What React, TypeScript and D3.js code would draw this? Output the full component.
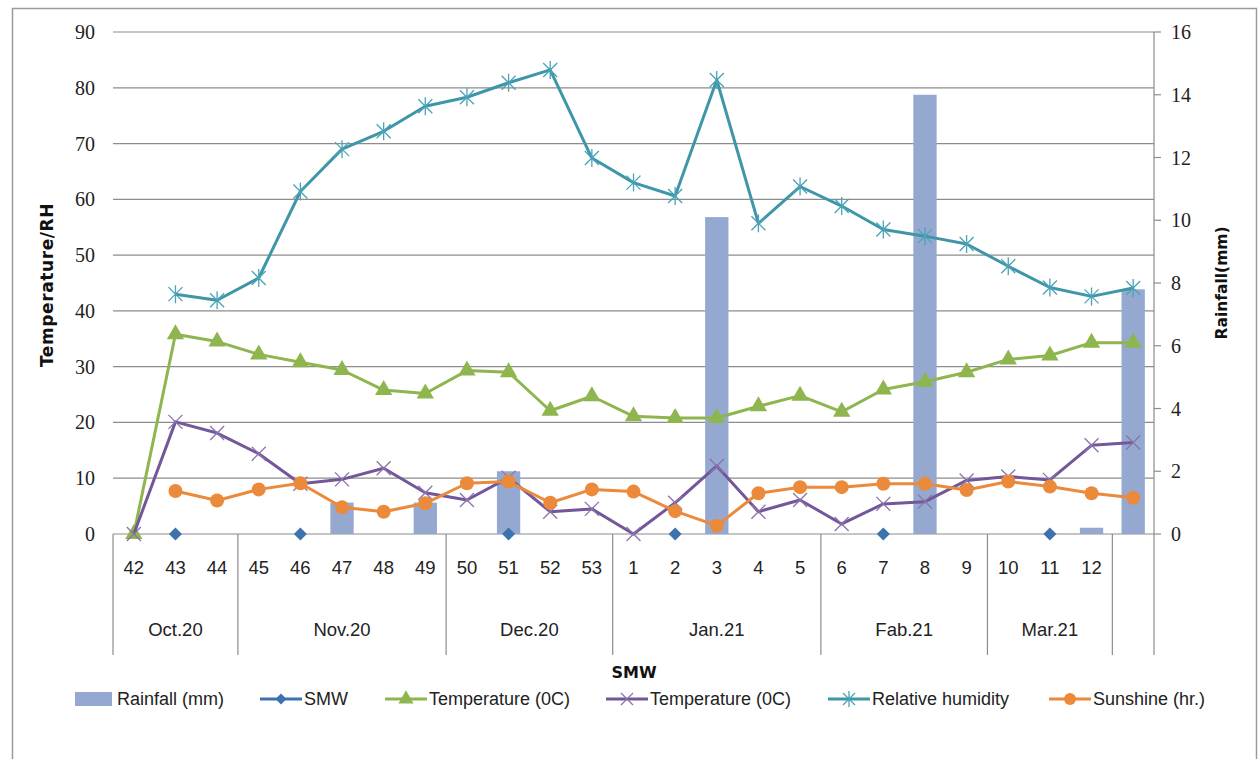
import { useEffect, useRef } from 'react';
import * as d3 from 'd3';

// Standard meteorological weeks, with one blank category at the end
const weeks = ['42', '43', '44', '45', '46', '47', '48', '49', '50', '51', '52', '53',
  '1', '2', '3', '4', '5', '6', '7', '8', '9', '10', '11', '12', ''];
const monthLabels = ['Oct.20', 'Nov.20', 'Dec.20', 'Jan.21', 'Fab.21', 'Mar.21', ''];
const monthSpans = [3, 5, 4, 5, 4, 3, 1];

const rainfall = [0, 0, 0, 0, 0, 1.0, 0, 1.0, 0, 2.0, 0, 0,
  0, 0, 10.1, 0, 0, 0, 0, 14.0, 0, 0, 0, 0.2, 7.8];
const smw: (number | null)[] = [null, 0, null, null, 0, null, null, null, null, 0, null, null,
  null, 0, null, null, null, null, 0, null, null, null, 0, null, null];
const tempMax = [0, 35.8, 34.5, 32.2, 30.8, 29.4, 25.8, 25.2, 29.3, 29.0, 22.1, 24.7,
  21.1, 20.8, 20.8, 22.9, 24.8, 21.9, 25.9, 27.3, 29.0, 31.3, 32.0, 34.3, 34.3];
const tempMin = [0, 20.1, 18.1, 14.4, 9.0, 9.8, 11.8, 7.4, 6.1, 10.1, 4.0, 4.5,
  0, 5.6, 12.2, 4.0, 6.1, 1.8, 5.4, 5.8, 9.6, 10.3, 9.7, 15.9, 16.4];
const humidity: (number | null)[] = [null, 43.0, 41.9, 45.9, 61.4, 69.0, 72.2, 76.7, 78.3, 80.9, 83.2, 67.4,
  63.0, 60.6, 81.4, 55.7, 62.3, 58.8, 54.6, 53.4, 52.0, 48.0, 44.2, 42.6, 44.1];
const sunshine: (number | null)[] = [null, 7.7, 6.0, 8.0, 9.1, 4.8, 4.0, 5.5, 9.1, 9.4, 5.6, 8.0,
  7.6, 4.1, 1.5, 7.3, 8.4, 8.4, 9.0, 9.0, 7.9, 9.4, 8.5, 7.3, 6.5];

const leftTicks = [0, 10, 20, 30, 40, 50, 60, 70, 80, 90];
const rightTicks = [0, 2, 4, 6, 8, 10, 12, 14, 16];

const COLORS = {
  rain: '#95A9D0',
  smw: '#3D72AE',
  tmax: '#8FB54E',
  tmin: '#74569A',
  rh: '#3F96A8',
  sun: '#EC8A3C',
  grid: '#8C8C8C',
};

const numFont = '"Liberation Serif", "DejaVu Serif", serif';
const catFont = '"Liberation Sans", Arial, sans-serif';
const boldFont = '"DejaVu Sans", "Liberation Sans", sans-serif';

export default function App() {
  const svgRef = useRef<SVGSVGElement>(null);

  useEffect(() => {
    if (!svgRef.current) return;
    const width = 1258;
    const height = 759;
    const left = 113;
    const right = 1154;
    const top = 32;
    const base = 534;
    const catBottom = 655;

    const svg = d3.select(svgRef.current);
    svg.selectAll('*').remove();
    svg.attr('width', width).attr('height', height);

    svg.append('rect').attr('x', 0).attr('y', 0).attr('width', width).attr('height', height).attr('fill', '#fff');
    // outer frame
    svg.append('rect')
      .attr('x', 12.5).attr('y', 8.5).attr('width', 1244).attr('height', 800)
      .attr('fill', 'none').attr('stroke', '#9a9a9a').attr('stroke-width', 1.5);

    const x = d3.scaleBand<number>().domain(weeks.map((_, i) => i)).range([left, right]).padding(0);
    const cx = (i: number) => x(i)! + x.bandwidth() / 2;
    const yL = d3.scaleLinear().domain([0, 90]).range([base, top]);
    const yR = d3.scaleLinear().domain([0, 16]).range([base, top]);

    // gridlines
    svg.append('g').selectAll('line').data(leftTicks).enter().append('line')
      .attr('x1', left).attr('x2', right)
      .attr('y1', (d) => yL(d)).attr('y2', (d) => yL(d))
      .attr('stroke', COLORS.grid).attr('stroke-width', 1.2);

    // left tick labels
    svg.append('g').selectAll('text').data(leftTicks).enter().append('text')
      .attr('x', 95).attr('y', (d) => yL(d)).attr('dy', '0.35em')
      .attr('text-anchor', 'end').attr('font-family', numFont).attr('font-size', 20)
      .attr('fill', '#222').text((d) => d);

    // right axis
    svg.append('line').attr('x1', right).attr('x2', right).attr('y1', top).attr('y2', catBottom)
      .attr('stroke', COLORS.grid).attr('stroke-width', 1.2);
    const rg = svg.append('g');
    rg.selectAll('line').data(rightTicks).enter().append('line')
      .attr('x1', right).attr('x2', right + 7)
      .attr('y1', (d) => yR(d)).attr('y2', (d) => yR(d))
      .attr('stroke', COLORS.grid).attr('stroke-width', 1.2);
    rg.selectAll('text').data(rightTicks).enter().append('text')
      .attr('x', 1171).attr('y', (d) => yR(d)).attr('dy', '0.35em')
      .attr('font-family', numFont).attr('font-size', 20).attr('fill', '#222').text((d) => d);

    // category (week) labels
    svg.append('g').selectAll('text').data(weeks).enter().append('text')
      .attr('x', (_, i) => cx(i)).attr('y', 568).attr('dy', '0.35em')
      .attr('text-anchor', 'middle').attr('font-family', catFont).attr('font-size', 18.5)
      .attr('fill', '#222').text((d) => d);

    // month groups
    let start = 0;
    const mg = svg.append('g');
    mg.append('line').attr('x1', left).attr('x2', left).attr('y1', base).attr('y2', catBottom)
      .attr('stroke', COLORS.grid).attr('stroke-width', 1.2);
    monthSpans.forEach((span, k) => {
      const x0 = x(start)!;
      const x1 = start + span < weeks.length ? x(start + span)! : right;
      if (start + span < weeks.length) {
        mg.append('line').attr('x1', x1).attr('x2', x1).attr('y1', base).attr('y2', catBottom)
          .attr('stroke', COLORS.grid).attr('stroke-width', 1.2);
      }
      mg.append('text').attr('x', (x0 + x1) / 2).attr('y', 630).attr('dy', '0.35em')
        .attr('text-anchor', 'middle').attr('font-family', catFont).attr('font-size', 18.5)
        .attr('fill', '#222').text(monthLabels[k]);
      start += span;
    });

    // rainfall bars (right axis)
    const bw = x.bandwidth() * 0.56;
    svg.append('g').selectAll('rect').data(rainfall).enter().append('rect')
      .attr('x', (_, i) => cx(i) - bw / 2).attr('width', bw)
      .attr('y', (d) => yR(d)).attr('height', (d) => base - yR(d))
      .attr('fill', COLORS.rain);

    const drawLine = (vals: (number | null)[], color: string) => {
      const line = d3.line<number | null>()
        .defined((d) => d !== null)
        .x((_, i) => cx(i)).y((d) => yL(d as number));
      svg.append('path').datum(vals).attr('d', line).attr('fill', 'none')
        .attr('stroke', color).attr('stroke-width', 3).attr('stroke-linejoin', 'round');
    };

    // SMW diamonds
    const diamond = d3.symbol(d3.symbolSquare, 85)();
    smw.forEach((v, i) => {
      if (v === null) return;
      svg.append('path').attr('d', diamond)
        .attr('transform', `translate(${cx(i)},${yL(v)}) rotate(45)`).attr('fill', COLORS.smw);
    });

    // Temperature max
    drawLine(tempMax, COLORS.tmax);
    tempMax.forEach((v, i) => {
      svg.append('path').attr('d', d3.symbol(d3.symbolTriangle, 130)())
        .attr('transform', `translate(${cx(i)},${yL(v)})`).attr('fill', COLORS.tmax);
    });

    // Temperature min
    drawLine(tempMin, COLORS.tmin);
    tempMin.forEach((v, i) => {
      const g = svg.append('g').attr('transform', `translate(${cx(i)},${yL(v)})`);
      g.append('path').attr('d', 'M-7,-7L7,7M-7,7L7,-7').attr('stroke', '#8a74aa').attr('stroke-width', 1.3);
    });

    // Relative humidity
    drawLine(humidity, COLORS.rh);
    humidity.forEach((v, i) => {
      if (v === null) return;
      const g = svg.append('g').attr('transform', `translate(${cx(i)},${yL(v)})`);
      g.append('path').attr('d', 'M-7,-7L7,7M-7,7L7,-7M0,-9L0,9').attr('stroke', '#4aa3b6').attr('stroke-width', 1.3);
    });

    // Sunshine
    drawLine(sunshine, COLORS.sun);
    sunshine.forEach((v, i) => {
      if (v === null) return;
      svg.append('circle').attr('cx', cx(i)).attr('cy', yL(v)).attr('r', 7).attr('fill', COLORS.sun);
    });

    // axis titles
    svg.append('text').attr('transform', `translate(53,${285}) rotate(-90)`)
      .attr('text-anchor', 'middle').attr('font-family', boldFont).attr('font-weight', 'bold')
      .attr('font-size', 17).attr('letter-spacing', 0.6).attr('fill', '#111').text('Temperature/RH');
    svg.append('text').attr('transform', `translate(1227,${283}) rotate(-90)`)
      .attr('text-anchor', 'middle').attr('font-family', boldFont).attr('font-weight', 'bold')
      .attr('font-size', 15.5).attr('fill', '#111').text('Rainfall(mm)');
    svg.append('text').attr('x', 634).attr('y', 672).attr('dy', '0.35em')
      .attr('text-anchor', 'middle').attr('font-family', boldFont).attr('font-weight', 'bold')
      .attr('font-size', 16).attr('fill', '#111').text('SMW');

    // legend
    const ly = 699;
    const lg = svg.append('g').attr('font-family', catFont).attr('font-size', 18).attr('fill', '#222');
    lg.append('rect').attr('x', 75).attr('y', ly - 7).attr('width', 37).attr('height', 14).attr('fill', COLORS.rain);
    lg.append('text').attr('x', 117).attr('y', ly).attr('dy', '0.35em').text('Rainfall (mm)');

    const legendLine = (x0: number, color: string, label: string, marker: (g: d3.Selection<SVGGElement, unknown, null, undefined>) => void) => {
      lg.append('line').attr('x1', x0).attr('x2', x0 + 42).attr('y1', ly).attr('y2', ly)
        .attr('stroke', color).attr('stroke-width', 3);
      marker(lg.append('g').attr('transform', `translate(${x0 + 21},${ly})`));
      lg.append('text').attr('x', x0 + 44).attr('y', ly).attr('dy', '0.35em').text(label);
    };
    legendLine(260, COLORS.smw, 'SMW', (g) => {
      g.append('path').attr('d', d3.symbol(d3.symbolSquare, 60)()).attr('transform', 'rotate(45)').attr('fill', COLORS.smw);
    });
    legendLine(385, COLORS.tmax, 'Temperature (0C)', (g) => {
      g.append('path').attr('d', d3.symbol(d3.symbolTriangle, 100)()).attr('fill', COLORS.tmax);
    });
    legendLine(606, COLORS.tmin, 'Temperature (0C)', (g) => {
      g.append('path').attr('d', 'M-6,-6L6,6M-6,6L6,-6').attr('stroke', '#8a74aa').attr('stroke-width', 1.3);
    });
    legendLine(828, COLORS.rh, 'Relative humidity', (g) => {
      g.append('path').attr('d', 'M-6,-6L6,6M-6,6L6,-6M0,-8L0,8').attr('stroke', '#4aa3b6').attr('stroke-width', 1.3);
    });
    legendLine(1049, COLORS.sun, 'Sunshine (hr.)', (g) => {
      g.append('circle').attr('r', 6).attr('fill', COLORS.sun);
    });
  }, []);

  return <svg ref={svgRef} style={{ position: 'absolute', left: 0, top: 0 }} />;
}
